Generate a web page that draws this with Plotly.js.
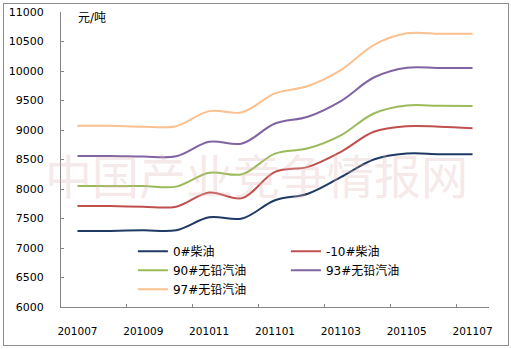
<!DOCTYPE html>
<html>
<head>
<meta charset="utf-8">
<script src="https://cdn.plot.ly/plotly-3.0.1.min.js"></script>
<style>
html,body{margin:0;padding:0;background:#fff;}
#wrap{position:relative;width:511px;height:349px;}
#chart{width:511px;height:349px;}
#frame{position:absolute;left:3px;top:3px;width:504px;height:341px;border:1px solid #8c8c8c;pointer-events:none;}
</style>
</head>
<body>
<div id="wrap"><div id="chart"></div><div id="frame"></div></div>
<script>
const months = ['201007','201008','201009','201010','201011','201012','201101','201102','201103','201104','201105','201106','201107'];
const seriesNames = ['0#柴油','-10#柴油','90#无铅汽油','93#无铅汽油','97#无铅汽油'];
const diesel0   = [7290,7290,7300,7300,7520,7500,7810,7920,8200,8500,8600,8590,8590];
const dieselM10 = [7710,7710,7700,7700,7940,7845,8290,8375,8630,8970,9065,9055,9030];
const gas90     = [8050,8050,8050,8040,8275,8250,8600,8690,8910,9280,9415,9410,9405];
const gas93     = [8560,8560,8550,8555,8800,8770,9110,9225,9490,9890,10055,10050,10050];
const gas97     = [9070,9070,9055,9065,9320,9300,9620,9745,10015,10440,10638,10632,10632];
const unitLabel = '元/吨';
const watermark = '中国产业竞争情报网';

const colors = ['#1f3a64','#c0504d','#9bbb59','#8064a2','#fac090'];
const allSeries = [diesel0, dieselM10, gas90, gas93, gas97];
const xIdx = months.map((m, i) => i);

const traces = allSeries.map((vals, k) => ({
  type: 'scatter', mode: 'lines', name: seriesNames[k],
  x: xIdx, y: vals,
  line: {color: colors[k], width: 2, shape: 'spline', smoothing: 1}
}));

const labelIdx = xIdx.filter(i => i % 2 === 0);
const minorIdx = xIdx.filter(i => i % 2 === 1 && i < months.length - 1).map(i => i + 0.5);

const font = 'DejaVu Sans, "Noto Sans CJK SC", sans-serif';
const layout = {
  width: 511, height: 349,
  margin: {l: 61, r: 22, t: 12, b: 42},
  paper_bgcolor: '#fff', plot_bgcolor: '#fff',
  font: {family: font, size: 11, color: '#000'},
  showlegend: true,
  legend: {
    orientation: 'h', x: 0.168, xanchor: 'left', y: 0.125, yanchor: 'middle',
    entrywidth: 108, entrywidthmode: 'pixels', itemwidth: 30,
    font: {family: font, size: 12, color: '#000'}, bgcolor: 'rgba(0,0,0,0)'
  },
  xaxis: {
    range: [-0.5, months.length - 0.5], showgrid: false, zeroline: false,
    showline: true, linecolor: '#868686', linewidth: 1,
    tickmode: 'array', tickvals: labelIdx, ticktext: labelIdx.map(i => months[i]),
    ticks: '', ticklabelstandoff: 14,
    tickfont: {family: font, size: 10.5, color: '#000'},
    minor: {tickmode: 'array', tickvals: minorIdx, ticks: 'inside', ticklen: 3, tickcolor: '#868686', showgrid: false}
  },
  yaxis: {
    range: [6000, 11000], dtick: 500, tick0: 6000, showgrid: false, zeroline: false,
    showline: true, linecolor: '#868686', linewidth: 1, tickformat: 'd',
    ticks: 'inside', ticklen: 3, tickcolor: '#868686', ticklabelstandoff: 14,
    tickfont: {family: font, size: 11, color: '#000'}
  },
  annotations: [
    {text: unitLabel, xref: 'paper', yref: 'paper', x: 0.035, y: 0.98, xanchor: 'left', yanchor: 'middle',
     showarrow: false, font: {family: font, size: 12, color: '#000'}},
    {text: watermark, xref: 'paper', yref: 'paper', x: 0.456, y: 0.451, xanchor: 'center', yanchor: 'middle',
     showarrow: false,
     font: {family: '"Noto Sans CJK SC", sans-serif', size: 47, color: 'rgba(226,180,180,0.3)'}}
  ]
};

Plotly.newPlot('chart', traces, layout, {displayModeBar: false, staticPlot: true});
</script>
</body>
</html>
